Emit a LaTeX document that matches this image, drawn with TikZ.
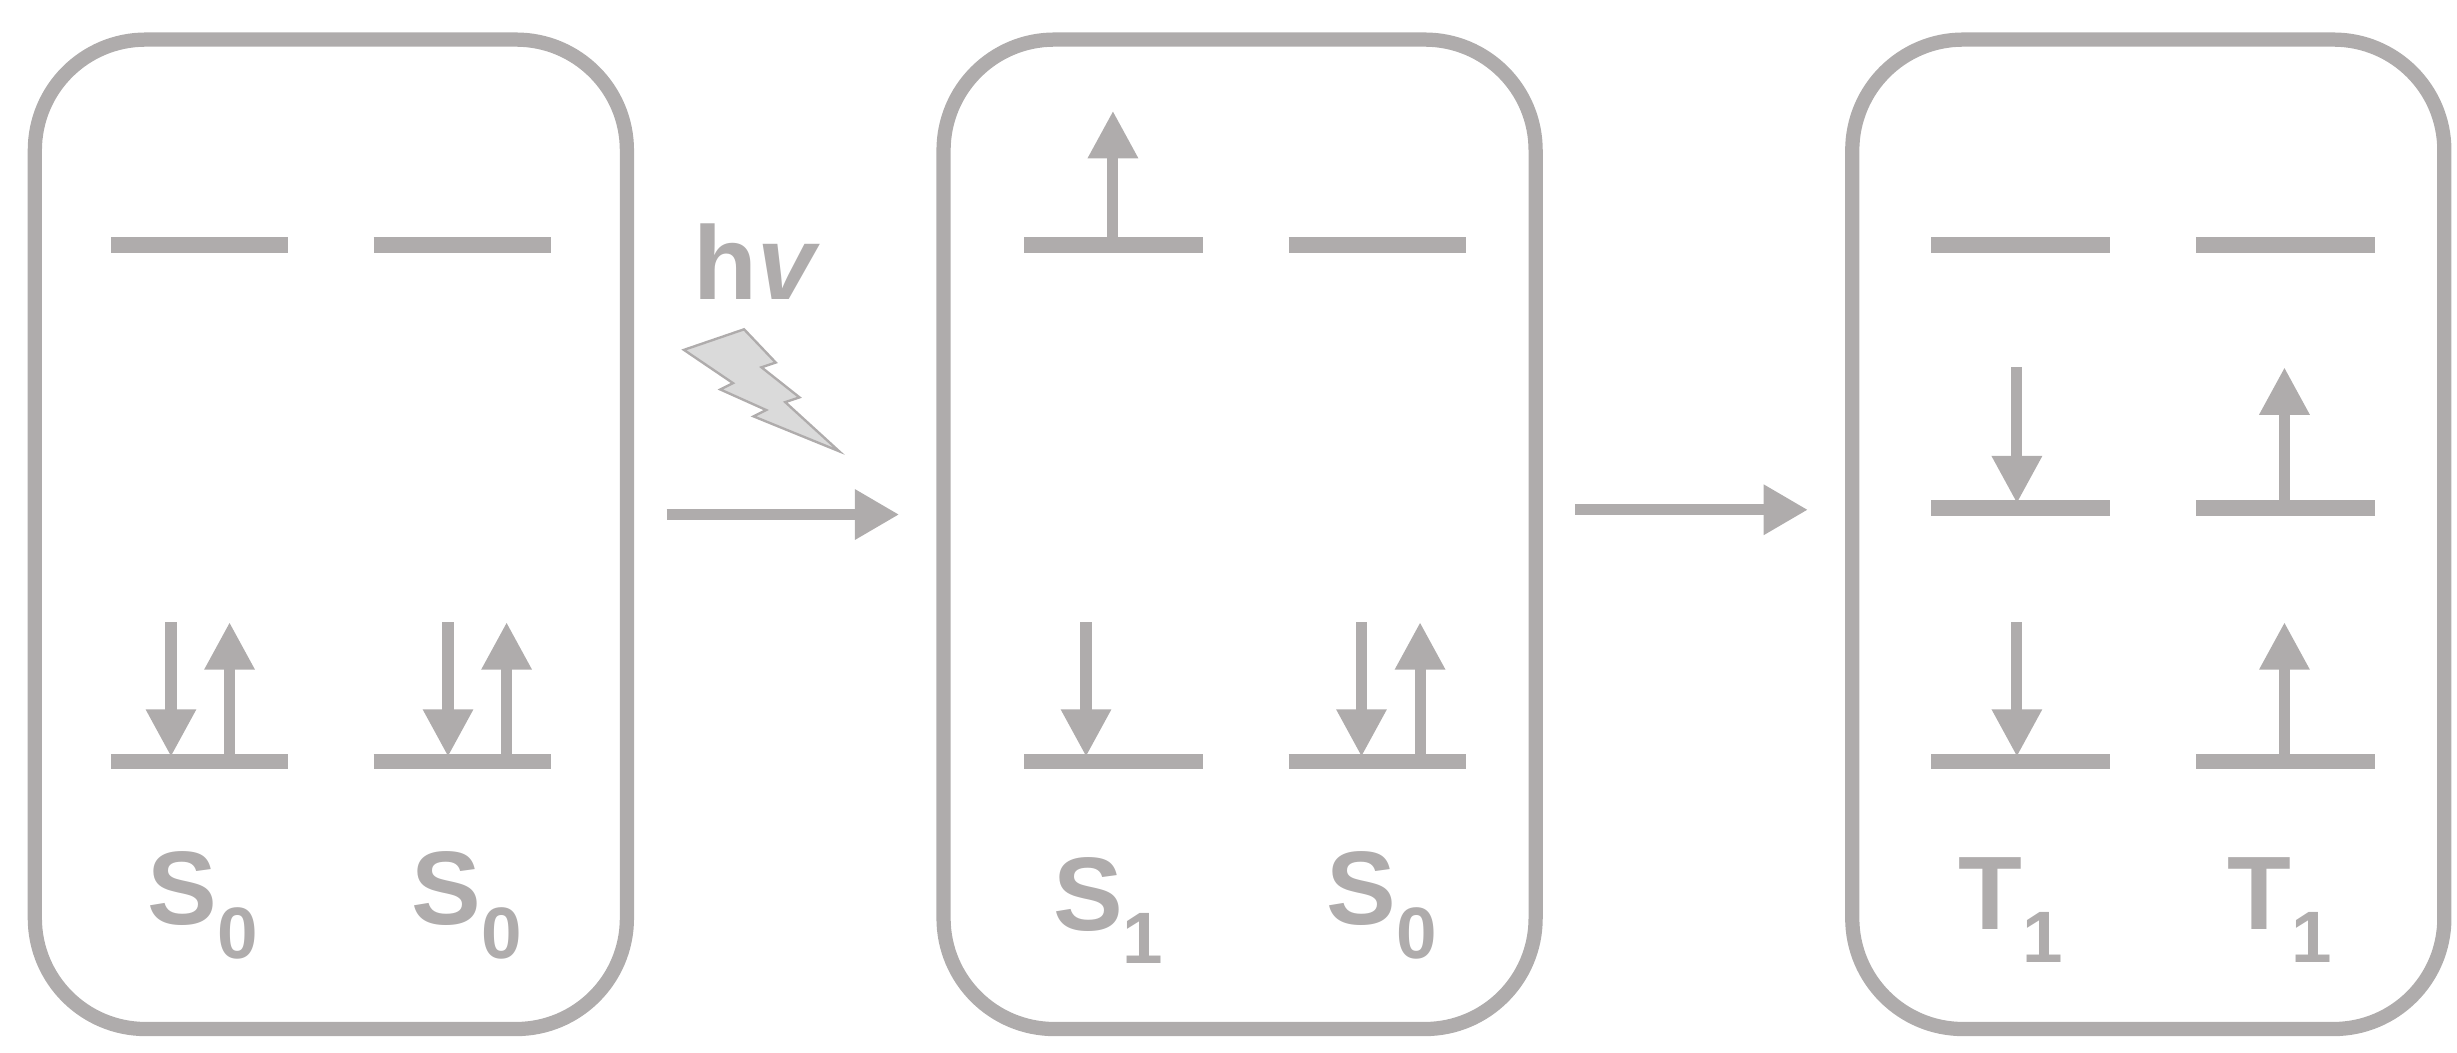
\documentclass[tikz,border=0pt]{standalone}
\usepackage{fontspec}
\setsansfont{Liberation Sans}
\usetikzlibrary{arrows.meta}
\definecolor{gr}{HTML}{AFACAC}
\definecolor{lg}{HTML}{DADADA}
\newcommand{\subsc}[1]{\raisebox{-0.32em}{\fontsize{46}{46}\selectfont #1}}
\begin{document}
\begin{tikzpicture}[x=1pt,y=-1pt,
  box/.style={draw=gr,line width=9pt,rounded corners=70pt},
  lvl/.style={draw=gr,line width=10pt},
  spin/.style={draw=gr,line width=7pt,-{Triangle[width=30pt,length=30pt]}},
  conn/.style={draw=gr,line width=7pt,-{Triangle[width=30pt,length=28pt]}},
  lab/.style={text=gr,font=\fontsize{66}{66}\selectfont\sffamily\bfseries}]
\useasboundingbox (0,0) rectangle (1552,665);
\foreach \n/\x in {b1/22,b2/596,b3/1170}{
  \draw[box] (\x,25) rectangle ++(374,625);
  \coordinate (\n) at (\x,25);}
% box 1
\draw[lvl] (70,155) -- (182,155); \draw[lvl] (236,155) -- (348,155);
\draw[lvl] (70,481) -- (182,481); \draw[lvl] (236,481) -- (348,481);
\draw[spin] (108,393) -- (108,478); \draw[spin] (145,478) -- (145,393);
\draw[spin] (283,393) -- (283,478); \draw[spin] (320,478) -- (320,393);
\node[lab] (l1) at (128,572) {S\subsc{0}};
\node[lab] (l2) at (295,572) {S\subsc{0}};
% photon
\node[lab] (hv) at (478,165) {h\textit{v}};
\draw[gr,fill=lg,line width=1.5pt] (432,221) -- (470,208) -- (490,229) -- (481,232) -- (505,251) -- (496,254) -- (530,285) -- (476,263) -- (484,259) -- (455,246) -- (463,242) -- cycle;
\coordinate (a1s) at (421,325); \coordinate (a1e) at (568,325);
\draw[conn] (a1s) -- (a1e);
% box 2
\draw[lvl] (647,155) -- (760,155); \draw[lvl] (814,155) -- (926,155);
\draw[lvl] (647,481) -- (760,481); \draw[lvl] (814,481) -- (926,481);
\draw[spin] (703,152) -- (703,70);
\draw[spin] (686,393) -- (686,478);
\draw[spin] (860,393) -- (860,478); \draw[spin] (897,478) -- (897,393);
\node[lab] (l3) at (700,575) {S\subsc{1}};
\node[lab] (l4) at (873,572) {S\subsc{0}};
\coordinate (a2s) at (995,322); \coordinate (a2e) at (1142,322);
\draw[conn] (a2s) -- (a2e);
% box 3
\draw[lvl] (1220,155) -- (1333,155); \draw[lvl] (1387,155) -- (1500,155);
\draw[lvl] (1220,321) -- (1333,321); \draw[lvl] (1387,321) -- (1500,321);
\draw[lvl] (1220,481) -- (1333,481); \draw[lvl] (1387,481) -- (1500,481);
\draw[spin] (1274,232) -- (1274,318); \draw[spin] (1443,318) -- (1443,232);
\draw[spin] (1274,393) -- (1274,478); \draw[spin] (1443,478) -- (1443,393);
\node[lab] (l5) at (1270,575) {T\subsc{1}};
\node[lab] (l6) at (1440,575) {T\subsc{1}};
\end{tikzpicture}
\end{document}
